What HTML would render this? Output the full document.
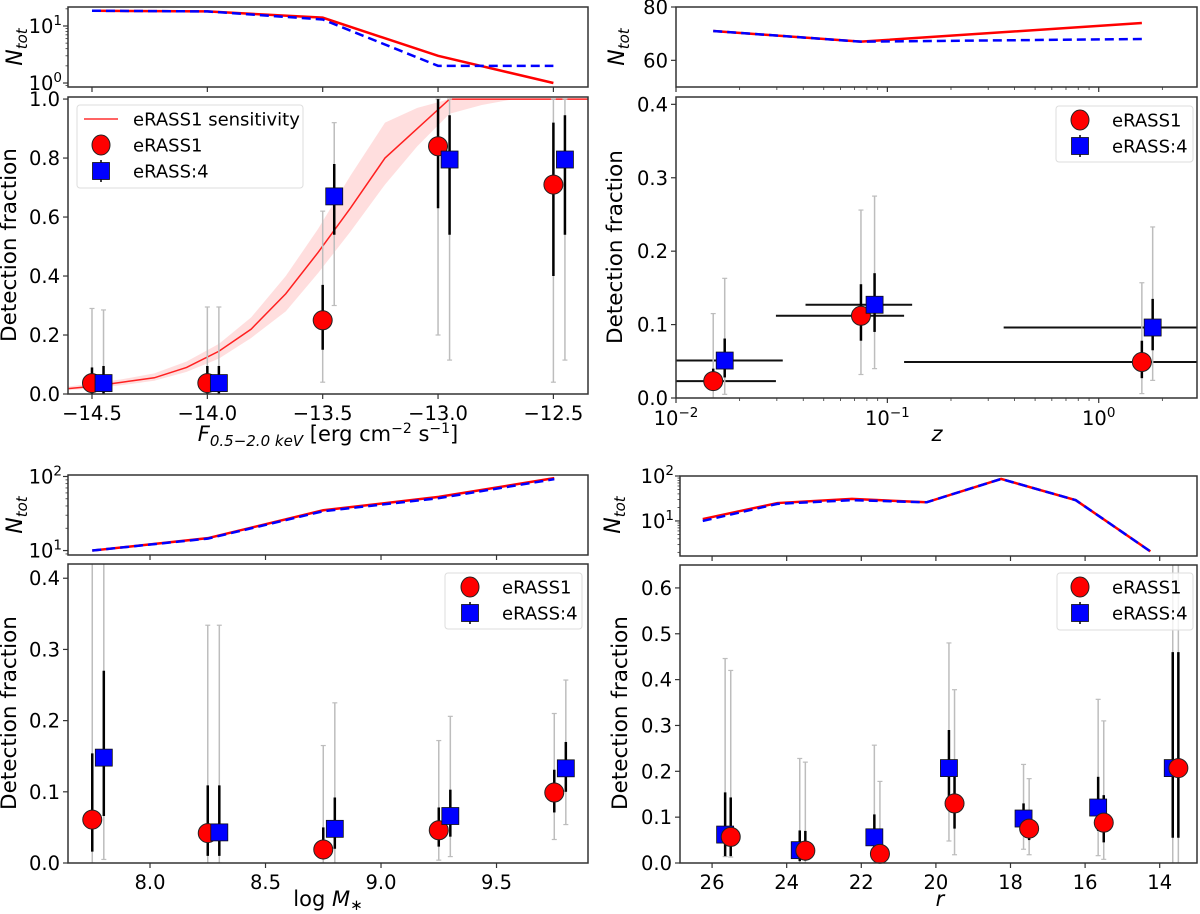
<!DOCTYPE html>
<html><head><meta charset="utf-8"><style>
body{margin:0;background:#fff}
svg{display:block;font-family:"DejaVu Sans","Liberation Sans",sans-serif}
</style></head><body>
<svg id="fig" width="1200" height="914" viewBox="0 0 1200 914" xmlns="http://www.w3.org/2000/svg"></svg>
<script>
// ---------- Panel A: flux ----------
const fluxBins = [-14.5, -14.0, -13.5, -13.0, -12.5];
const fluxNtotE1 = [18.5, 18, 14, 3, 1];
const fluxNtotE4 = [18.5, 18, 13, 2, 2];
const fluxFracE1 = [0.037, 0.037, 0.25, 0.84, 0.71];
const fluxFracE4 = [0.037, 0.037, 0.67, 0.795, 0.795];
const fluxE1BlackLo = [0, 0, 0.15, 0.63, 0.40];
const fluxE1BlackHi = [0.09, 0.095, 0.37, 1.0, 0.92];
const fluxE1GreyLo = [0, 0, 0.04, 0.20, 0.04];
const fluxE1GreyHi = [0.29, 0.295, 0.62, 1.0, 1.0];
const fluxE4BlackLo = [0, 0, 0.54, 0.54, 0.54];
const fluxE4BlackHi = [0.095, 0.095, 0.78, 0.945, 0.945];
const fluxE4GreyLo = [0, 0, 0.30, 0.115, 0.115];
const fluxE4GreyHi = [0.285, 0.295, 0.92, 1.0, 1.0];
const sensX = [-14.65,-14.51,-14.37,-14.23,-14.09,-13.95,-13.81,-13.66,-13.52,-13.38,-13.23,-13.09,-12.95,-12.81,-12.67,-12.52,-12.38,-12.30];
const sensY = [0.015,0.025,0.04,0.055,0.09,0.145,0.22,0.34,0.48,0.63,0.80,0.90,1.0,1.0,1.0,1.0,1.0,1.0];
const sensHi = [0.02,0.035,0.05,0.07,0.11,0.17,0.26,0.40,0.56,0.74,0.92,0.97,1.0,1.0,1.0,1.0,1.0,1.0];
const sensLo = [0.01,0.018,0.03,0.045,0.075,0.12,0.19,0.28,0.41,0.55,0.71,0.84,0.95,0.98,1.0,1.0,1.0,1.0];
const fluxXTicks = [-14.5, -14.0, -13.5, -13.0, -12.5];
const fluxXTickLabels = ["\u221214.5","\u221214.0","\u221213.5","\u221213.0","\u221212.5"];
const fluxYTicks = [0, 0.2, 0.4, 0.6, 0.8, 1.0];

// ---------- Panel B: redshift ----------
const zE1 = [0.015, 0.075, 1.6];
const zE4 = [0.017, 0.087, 1.8];
const zNtotE1 = [71, 67, 74];
const zNtotE4 = [71, 67, 68];
const zFracE1 = [0.023, 0.112, 0.049];
const zFracE4 = [0.051, 0.127, 0.096];
const zE1XLo = [0.008, 0.0297, 0.12];
const zE1XHi = [0.0297, 0.12, 4.0];
const zE4XLo = [0.008, 0.041, 0.355];
const zE4XHi = [0.032, 0.131, 4.0];
const zE1BlackLo = [0.01, 0.078, 0.027];
const zE1BlackHi = [0.04, 0.155, 0.078];
const zE1GreyLo = [0.0, 0.032, 0.006];
const zE1GreyHi = [0.115, 0.256, 0.157];
const zE4BlackLo = [0.028, 0.09, 0.065];
const zE4BlackHi = [0.081, 0.17, 0.135];
const zE4GreyLo = [0.005, 0.04, 0.024];
const zE4GreyHi = [0.163, 0.275, 0.233];
const zYTicks = [0, 0.1, 0.2, 0.3, 0.4];

// ---------- Panel C: stellar mass ----------
const massE1 = [7.75, 8.25, 8.75, 9.25, 9.75];
const massE4 = [7.80, 8.30, 8.80, 9.30, 9.80];
const massNtotE1 = [10, 14.7, 35, 53, 95];
const massNtotE4 = [10, 14.5, 34, 51, 92];
const massFracE1 = [0.061, 0.042, 0.019, 0.046, 0.099];
const massFracE4 = [0.148, 0.043, 0.048, 0.066, 0.133];
const massE1BlackLo = [0.016, 0.01, 0.005, 0.023, 0.071];
const massE1BlackHi = [0.154, 0.109, 0.05, 0.078, 0.131];
const massE1GreyLo = [0, 0, 0, 0.004, 0.033];
const massE1GreyHi = [0.45, 0.334, 0.165, 0.172, 0.21];
const massE4BlackLo = [0.066, 0.01, 0.02, 0.037, 0.1];
const massE4BlackHi = [0.27, 0.109, 0.092, 0.103, 0.17];
const massE4GreyLo = [0.005, 0, 0, 0.009, 0.054];
const massE4GreyHi = [0.45, 0.334, 0.225, 0.206, 0.257];
const massXTicks = [8.0, 8.5, 9.0, 9.5];
const massYTicks = [0, 0.1, 0.2, 0.3, 0.4];

// ---------- Panel D: r magnitude ----------
const rBins = [26.25, 24.25, 22.25, 20.25, 18.25, 16.25, 14.25];
const rNtotE1 = [11, 25, 31, 26, 86, 29, 2.1];
const rNtotE4 = [10, 24, 29, 26, 86, 29, 2.1];
const rE1 = [25.5, 23.5, 21.5, 19.5, 17.5, 15.5, 13.5];
const rE4 = [25.65, 23.65, 21.65, 19.65, 17.65, 15.65, 13.65];
const rFracE1 = [0.057, 0.027, 0.02, 0.13, 0.075, 0.088, 0.207];
const rFracE4 = [0.062, 0.028, 0.056, 0.207, 0.097, 0.121, 0.207];
const rE1BlackLo = [0.015, 0.005, 0.005, 0.075, 0.05, 0.045, 0.055];
const rE1BlackHi = [0.143, 0.07, 0.04, 0.2, 0.1, 0.148, 0.46];
const rE1GreyLo = [0.013, 0, 0, 0.018, 0.018, 0.008, 0];
const rE1GreyHi = [0.42, 0.22, 0.178, 0.378, 0.184, 0.31, 0.7];
const rE4BlackLo = [0.015, 0.004, 0.015, 0.135, 0.06, 0.07, 0.055];
const rE4BlackHi = [0.154, 0.071, 0.106, 0.29, 0.13, 0.188, 0.46];
const rE4GreyLo = [0.014, 0, 0, 0.048, 0.03, 0.016, 0];
const rE4GreyHi = [0.446, 0.228, 0.257, 0.48, 0.215, 0.357, 0.7];
const rXTicks = [26, 24, 22, 20, 18, 16, 14];
const rYTicks = [0, 0.1, 0.2, 0.3, 0.4, 0.5, 0.6];

const NS = "http://www.w3.org/2000/svg";
const svg = document.getElementById('fig');
const TF = 19.5;
function mk(tag, attrs, parent){const e=document.createElementNS(NS,tag);for(const k in attrs)e.setAttribute(k,attrs[k]);(parent||svg).appendChild(e);return e;}
function nm(e,n,i){
  
  
  return e;
}
function lin(d0,d1,r0,r1){return v=>r0+(v-d0)/(d1-d0)*(r1-r0);}
function lg(d0,d1,r0,r1){return v=>r0+(Math.log10(v)-d0)/(d1-d0)*(r1-r0);}
function clip(id,x0,y0,x1,y1){const d=mk('clipPath',{id:id});mk('rect',{x:x0,y:y0,width:x1-x0,height:y1-y0},d);}

function frame(g,x0,y0,x1,y1,name){
  const r=mk('rect',{x:x0,y:y0,width:x1-x0,height:y1-y0,fill:'none',stroke:'#333','stroke-width':1.5},g);
  nm(r,name);
}
function xtick(g,x,y,len,label,name){
  const t=mk('line',{x1:x,x2:x,y1:y,y2:y+len,stroke:'#333','stroke-width':1.2},g);
  nm(t,name+'-tick');
  if(label!==null){
    const tx=mk('text',{x:x,y:y+26,'font-size':TF,'text-anchor':'middle',fill:'#000'},g);
    nm(tx,name+'-label');
    tx.textContent=label;
  }
}
function ytick(g,x,y,len,label,name){
  const t=mk('line',{x1:x-len,x2:x,y1:y,y2:y,stroke:'#333','stroke-width':1.2},g);
  nm(t,name+'-tick');
  if(label!==null){
    const tx=mk('text',{x:x-8,y:y+7,'font-size':TF,'text-anchor':'end',fill:'#000'},g);
    nm(tx,name+'-label');
    tx.textContent=label;
  }
}
function powLabel(g,x,y,anchor,base,exp,name){
  const tx=mk('text',{x:x,y:y,'font-size':TF,'text-anchor':anchor,fill:'#000'},g);
  nm(tx,name);
  const a=mk('tspan',{},tx);a.textContent=base;
  const b=mk('tspan',{dy:-8,'font-size':13.5},tx);b.textContent=exp;
}
function vtext(g,x,y,txt,name,size){
  const t=mk('text',{x:x,y:y,'font-size':size||21.5,'text-anchor':'middle',transform:`rotate(-90 ${x} ${y})`,fill:'#000'},g);
  nm(t,name);
  t.textContent=txt;
  return t;
}
function ntotLabel(g,x,y,name){
  const t=mk('text',{x:x,y:y,'font-size':22,'text-anchor':'middle',transform:`rotate(-90 ${x} ${y})`,'font-style':'italic',fill:'#000'},g);
  nm(t,name);
  const a=mk('tspan',{},t);a.textContent='N';
  const b=mk('tspan',{dy:5,'font-size':15},t);b.textContent='tot';
}
function line(g,xs,ys,sx,sy,color,dash,name,clipId,w){
  const p=mk('polyline',{points:xs.map((v,i)=>sx(v)+','+sy(ys[i])).join(' '),fill:'none',stroke:color,'stroke-width':w||2.5,'stroke-dasharray':dash||'none','clip-path':clipId?`url(#${clipId})`:'none'},g);
  nm(p,name);
}
function vbar(g,x,ylo,yhi,color,w,cap,name,clipId){
  const b=mk('line',{x1:x,x2:x,y1:ylo,y2:yhi,stroke:color,'stroke-width':w,'clip-path':`url(#${clipId})`},g);
  nm(b,name);
  if(cap){
    const c1=mk('line',{x1:x-2.5,x2:x+2.5,y1:ylo,y2:ylo,stroke:color,'stroke-width':1.2,'clip-path':`url(#${clipId})`},g);
    nm(c1,name+'-cap');
    const c2=mk('line',{x1:x-2.5,x2:x+2.5,y1:yhi,y2:yhi,stroke:color,'stroke-width':1.2,'clip-path':`url(#${clipId})`},g);
    nm(c2,name+'-cap');
  }
}
function hbar(g,x0,x1,y,name,clipId){
  const b=mk('line',{x1:x0,x2:x1,y1:y,y2:y,stroke:'#111','stroke-width':2,'clip-path':`url(#${clipId})`},g);
  nm(b,name);
}
function circle(g,x,y,name){const c=mk('circle',{cx:x,cy:y,r:9.5,fill:'#ff0000',stroke:'#222','stroke-width':1},g);nm(c,name);}
function square(g,x,y,name){const s=mk('rect',{x:x-8.5,y:y-8.5,width:17,height:17,fill:'#0000ff',stroke:'#111','stroke-width':0.8},g);nm(s,name);}

function points(g,xs,ys,gLo,gHi,bLo,bHi,sx,sy,kind,prefix,clipId){
  for(let i=0;i<xs.length;i++){
    const x=sx(xs[i]);
    vbar(g,x,sy(gLo[i]),sy(gHi[i]),'#bdbdbd',1.5,true,prefix+'-grey-err',clipId);
    vbar(g,x,sy(bLo[i]),sy(bHi[i]),'#000',2.5,false,prefix+'-black-err',clipId);
  }
}
function markers(g,xs,ys,sx,sy,kind,prefix){
  for(let i=0;i<xs.length;i++){
    if(kind==='c')circle(g,sx(xs[i]),sy(ys[i]),prefix+'-marker');
    else square(g,sx(xs[i]),sy(ys[i]),prefix+'-marker');
  }
}
function legend(g,x0,y0,x1,y1,rows,mx,tx,name){
  const r=mk('rect',{x:x0,y:y0,width:x1-x0,height:y1-y0,rx:3,fill:'#fff','fill-opacity':0.8,stroke:'#ddd','stroke-width':1},g);
  nm(r,name+'-box');
  rows.forEach(row=>{
    const gg=mk('g',{},g);
    nm(gg,'legend-entry');
    if(row.k==='l'){const l=mk('line',{x1:mx-17,x2:mx+17,y1:row.y,y2:row.y,stroke:'#ff3030','stroke-width':1.5},gg);nm(l,'legend-line');}
    else if(row.k==='c'){const c=mk('ellipse',{cx:mx,cy:row.y,rx:9,ry:10,fill:'#ff0000',stroke:'#222','stroke-width':1},gg);nm(c,'legend-marker');}
    else {const v=mk('line',{x1:mx,x2:mx,y1:row.y-11,y2:row.y+11,stroke:'#000','stroke-width':1.5},gg);nm(v,'legend-errbar');square(gg,mx,row.y,'legend-marker');}
    const t=mk('text',{x:tx,y:row.y+6.5,'font-size':18,fill:'#000'},gg);
    nm(t,'legend-label');
    t.textContent=row.t;
  });
}
function minorLogY(g,x,sy,lo,hi,name){
  for(let d=Math.floor(lo);d<=Math.ceil(hi);d++){
    for(let m=2;m<=9;m++){
      const v=Math.log10(m)+d;
      if(v>lo&&v<hi){const t=mk('line',{x1:x-2.5,x2:x,y1:sy(Math.pow(10,v)),y2:sy(Math.pow(10,v)),stroke:'#333','stroke-width':0.8},g);nm(t,name);}
    }
  }
}

// ===== Panel A =====
(function(){
  const g=mk('g',{});nm(g,'panel-flux');
  const X0=68,X1=588,Y0=97,Y1=394,T0=7,T1=87;
  const sx=lin(-14.604,-12.35,X0,X1), sy=lin(0,1.007,Y1,Y0), st=lg(-0.07,1.333,T1,T0);
  clip('cA',X0,Y0,X1,Y1);clip('cAt',X0,T0,X1,T1);
  line(g,fluxBins,fluxNtotE1,sx,st,'#ff0000',null,'ntot-line-erass1','cAt');
  line(g,fluxBins,fluxNtotE4,sx,st,'#0000ff','9,5','ntot-line-erass4','cAt');
  frame(g,X0,T0,X1,T1,'ntot-axes-frame');
  fluxXTicks.forEach(v=>xtick(g,sx(v),T1,5,null,'ntot-x'));
  [1,10].forEach((v,i)=>{ytick(g,X0,st(v),5,null,'ntot-y');powLabel(g,X0-6,st(v)+7,'end','10',String(i),'ntot-y-label');});
  minorLogY(g,X0,st,-0.07,1.333,'ntot-minor-tick');
  ntotLabel(g,22,47,'ntot-axis-title');
  const pts=sensX.map((v,i)=>sx(v)+','+sy(sensHi[i])).concat(sensX.slice().reverse().map((v,i)=>sx(v)+','+sy(sensLo[sensX.length-1-i])));
  const band=mk('polygon',{points:pts.join(' '),fill:'#ff0000','fill-opacity':0.13,stroke:'none','clip-path':'url(#cA)'},g);
  nm(band,'sensitivity-band');
  line(g,sensX,sensY,sx,sy,'#ff2020',null,'sensitivity-curve','cA',1.5);
  points(g,fluxBins,fluxFracE1,fluxE1GreyLo,fluxE1GreyHi,fluxE1BlackLo,fluxE1BlackHi,sx,sy,'c','erass1','cA');
  const fx4=fluxBins.map(v=>v+0.05);
  points(g,fx4,fluxFracE4,fluxE4GreyLo,fluxE4GreyHi,fluxE4BlackLo,fluxE4BlackHi,sx,sy,'s','erass4','cA');
  markers(g,fluxBins,fluxFracE1,sx,sy,'c','erass1');
  markers(g,fx4,fluxFracE4,sx,sy,'s','erass4');
  frame(g,X0,Y0,X1,Y1,'axes-frame');
  fluxXTicks.forEach((v,i)=>xtick(g,sx(v),Y1,5,fluxXTickLabels[i],'x'));
  fluxYTicks.forEach(v=>ytick(g,X0,sy(v),5,v.toFixed(1),'y'));
  vtext(g,16,245,'Detection fraction','y-axis-title');
  const xl=mk('text',{x:328,y:441,'font-size':21,'text-anchor':'middle',fill:'#000'},g);
  nm(xl,'x-axis-title');
  xl.innerHTML='<tspan font-style="italic">F</tspan><tspan font-size="15" dy="5" font-style="italic">0.5\u22122.0 keV</tspan><tspan dy="-5">  [erg cm</tspan><tspan font-size="14" dy="-8">\u22122</tspan><tspan dy="8"> s</tspan><tspan font-size="14" dy="-8">\u22121</tspan><tspan dy="8">]</tspan>';
  legend(g,77,105,303,188,[{k:'l',y:119,t:'eRASS1 sensitivity'},{k:'c',y:145,t:'eRASS1'},{k:'s',y:171,t:'eRASS:4'}],101,133,'legend');
})();

// ===== Panel B =====
(function(){
  const g=mk('g',{});nm(g,'panel-redshift');
  const X0=676,X1=1197,Y0=97,Y1=398,T0=7,T1=87;
  const sx=lg(-2,0.465,X0,X1), sy=lin(0,0.41,Y1,Y0), st=lin(50,80,T1,T0);
  clip('cB',X0,Y0,X1,Y1);clip('cBt',X0,T0,X1,T1);
  line(g,zE1,zNtotE1,sx,st,'#ff0000',null,'ntot-line-erass1','cBt');
  line(g,zE1,zNtotE4,sx,st,'#0000ff','9,5','ntot-line-erass4','cBt');
  frame(g,X0,T0,X1,T1,'ntot-axes-frame');
  [60,80].forEach(v=>ytick(g,X0,st(v),5,String(v),'ntot-y'));
  ntotLabel(g,624,47,'ntot-axis-title');
  for(let i=0;i<zE1.length;i++){
    hbar(g,sx(zE1XLo[i]),sx(zE1XHi[i]),sy(zFracE1[i]),'erass1-x-err','cB');
    hbar(g,sx(zE4XLo[i]),sx(zE4XHi[i]),sy(zFracE4[i]),'erass4-x-err','cB');
  }
  points(g,zE1,zFracE1,zE1GreyLo,zE1GreyHi,zE1BlackLo,zE1BlackHi,sx,sy,'c','erass1','cB');
  points(g,zE4,zFracE4,zE4GreyLo,zE4GreyHi,zE4BlackLo,zE4BlackHi,sx,sy,'s','erass4','cB');
  markers(g,zE1,zFracE1,sx,sy,'c','erass1');
  markers(g,zE4,zFracE4,sx,sy,'s','erass4');
  frame(g,X0,Y0,X1,Y1,'axes-frame');
  [-2,-1,0].forEach(d=>{
    xtick(g,sx(Math.pow(10,d)),Y1,5,null,'x');
    xtick(g,sx(Math.pow(10,d)),T1,5,null,'ntot-x');
    powLabel(g,sx(Math.pow(10,d)),Y1+27,'middle','10',d<0?'\u2212'+(-d):String(d),'x-tick-label');
  });
  for(let d=-2;d<=0;d++)for(let m=2;m<=9;m++){const v=m*Math.pow(10,d);if(sx(v)<X1){
    const t=mk('line',{x1:sx(v),x2:sx(v),y1:Y1,y2:Y1+3,stroke:'#333','stroke-width':0.8},g);nm(t,'x-minor-tick');
    const t2=mk('line',{x1:sx(v),x2:sx(v),y1:T1,y2:T1+3,stroke:'#333','stroke-width':0.8},g);nm(t2,'ntot-x-minor-tick');}}
  zYTicks.forEach(v=>ytick(g,X0,sy(v),5,v.toFixed(1),'y'));
  vtext(g,622,247,'Detection fraction','y-axis-title');
  const xl=mk('text',{x:937,y:441,'font-size':21,'text-anchor':'middle','font-style':'italic',fill:'#000'},g);
  nm(xl,'x-axis-title');
  xl.textContent='z';
  legend(g,1056,106,1193,162,[{k:'c',y:120,t:'eRASS1'},{k:'s',y:146,t:'eRASS:4'}],1080,1112,'legend');
})();

// ===== Panel C =====
(function(){
  const g=mk('g',{});nm(g,'panel-mass');
  const X0=68,X1=588,Y0=564,Y1=863,T0=475,T1=555;
  const sx=lin(7.645,9.896,X0,X1), sy=lin(0,0.42,Y1,Y0), st=lg(0.94,2.02,T1,T0);
  clip('cC',X0,Y0,X1,Y1);clip('cCt',X0,T0,X1,T1);
  line(g,massE1,massNtotE1,sx,st,'#ff0000',null,'ntot-line-erass1','cCt');
  line(g,massE1,massNtotE4,sx,st,'#0000ff','9,5','ntot-line-erass4','cCt');
  frame(g,X0,T0,X1,T1,'ntot-axes-frame');
  massXTicks.forEach(v=>xtick(g,sx(v),T1,5,null,'ntot-x'));
  [10,100].forEach((v,i)=>{ytick(g,X0,st(v),5,null,'ntot-y');powLabel(g,X0-6,st(v)+7,'end','10',String(i+1),'ntot-y-label');});
  minorLogY(g,X0,st,0.94,2.02,'ntot-minor-tick');
  ntotLabel(g,22,515,'ntot-axis-title');
  points(g,massE1,massFracE1,massE1GreyLo,massE1GreyHi,massE1BlackLo,massE1BlackHi,sx,sy,'c','erass1','cC');
  points(g,massE4,massFracE4,massE4GreyLo,massE4GreyHi,massE4BlackLo,massE4BlackHi,sx,sy,'s','erass4','cC');
  markers(g,massE1,massFracE1,sx,sy,'c','erass1');
  markers(g,massE4,massFracE4,sx,sy,'s','erass4');
  frame(g,X0,Y0,X1,Y1,'axes-frame');
  massXTicks.forEach(v=>xtick(g,sx(v),Y1,5,v.toFixed(1),'x'));
  massYTicks.forEach(v=>ytick(g,X0,sy(v),5,v.toFixed(1),'y'));
  vtext(g,16,713,'Detection fraction','y-axis-title');
  const xl=mk('text',{x:328,y:906,'font-size':21,'text-anchor':'middle',fill:'#000'},g);
  nm(xl,'x-axis-title');
  xl.innerHTML='log <tspan font-style="italic">M</tspan><tspan font-size="15" dy="4">\u2217</tspan>';
  legend(g,445,573,582,629,[{k:'c',y:587,t:'eRASS1'},{k:'s',y:613,t:'eRASS:4'}],470,502,'legend');
})();

// ===== Panel D =====
(function(){
  const g=mk('g',{});nm(g,'panel-rmag');
  const X0=680,X1=1197,Y0=565,Y1=863,T0=476,T1=556;
  const sx=lin(26.86,13.0,X0,X1), sy=lin(0,0.65,Y1,Y0), st=lg(0.22,2.0,T1,T0);
  clip('cD',X0,Y0,X1,Y1);clip('cDt',X0,T0,X1,T1);
  line(g,rBins,rNtotE1,sx,st,'#ff0000',null,'ntot-line-erass1','cDt');
  line(g,rBins,rNtotE4,sx,st,'#0000ff','9,5','ntot-line-erass4','cDt');
  frame(g,X0,T0,X1,T1,'ntot-axes-frame');
  rXTicks.forEach(v=>xtick(g,sx(v),T1,5,null,'ntot-x'));
  [10,100].forEach((v,i)=>{ytick(g,X0,st(v),5,null,'ntot-y');powLabel(g,X0-6,st(v)+7,'end','10',String(i+1),'ntot-y-label');});
  minorLogY(g,X0,st,0.22,2.0,'ntot-minor-tick');
  ntotLabel(g,620,515,'ntot-axis-title');
  points(g,rE1,rFracE1,rE1GreyLo,rE1GreyHi,rE1BlackLo,rE1BlackHi,sx,sy,'c','erass1','cD');
  points(g,rE4,rFracE4,rE4GreyLo,rE4GreyHi,rE4BlackLo,rE4BlackHi,sx,sy,'s','erass4','cD');
  markers(g,rE4,rFracE4,sx,sy,'s','erass4');
  markers(g,rE1,rFracE1,sx,sy,'c','erass1');
  frame(g,X0,Y0,X1,Y1,'axes-frame');
  rXTicks.forEach(v=>xtick(g,sx(v),Y1,5,String(v),'x'));
  rYTicks.forEach(v=>ytick(g,X0,sy(v),5,v.toFixed(1),'y'));
  vtext(g,627,713,'Detection fraction','y-axis-title');
  const xl=mk('text',{x:940,y:906,'font-size':21,'text-anchor':'middle','font-style':'italic',fill:'#000'},g);
  nm(xl,'x-axis-title');
  xl.textContent='r';
  legend(g,1057,573,1193,630,[{k:'c',y:587,t:'eRASS1'},{k:'s',y:613,t:'eRASS:4'}],1080,1112,'legend');
})();
</script>
</body></html>
